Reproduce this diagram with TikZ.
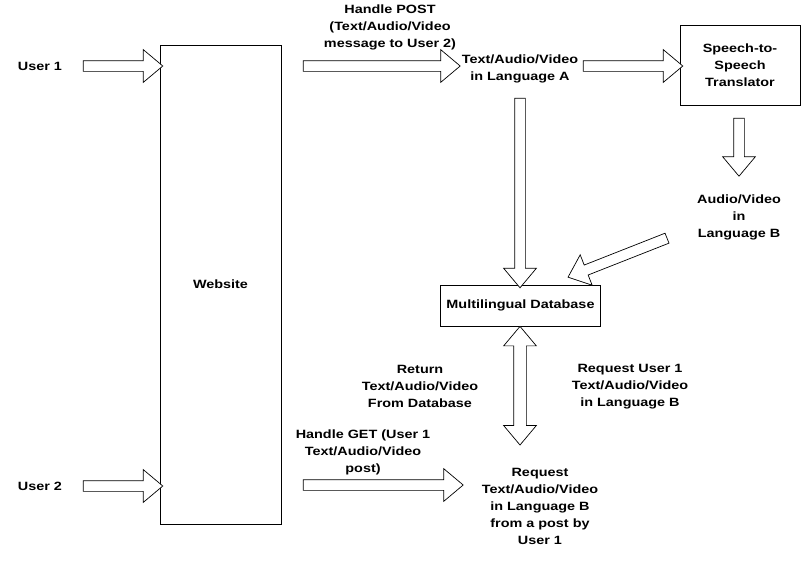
\documentclass[tikz,border=0pt]{standalone}
\usepackage{fontspec}
\setmainfont[FakeStretch=1.2]{Liberation Sans}
\usetikzlibrary{shapes.arrows,calc}
\tikzset{
  lbl/.style={font=\fontsize{12}{17}\selectfont\bfseries, align=center, inner sep=0pt},
  boxn/.style={draw, line width=0.8pt, font=\fontsize{12}{17}\selectfont\bfseries, align=center, inner sep=0pt},
  barrow/.style={single arrow, draw, line width=0.7pt, fill=white, inner xsep=0pt, inner ysep=5pt,
     single arrow head extend=11pt, single arrow tip angle=80, anchor=center},
  darrow/.style={double arrow, draw, line width=0.7pt, fill=white, inner xsep=0pt, inner ysep=6pt,
     double arrow head extend=10pt, double arrow tip angle=80, anchor=center}
}
\newcommand\blockarr[3][barrow]{%
  \path let \p1=(#2), \p2=(#3), \n1={atan2(\y2-\y1,\x2-\x1)}, \n2={veclen(\x2-\x1,\y2-\y1)} in
    ($(\p1)!0.5!(\p2)$) node[#1, rotate=\n1, minimum height=\n2] {};}
\begin{document}
\begin{tikzpicture}[x=1pt,y=-1pt]
\useasboundingbox (0,0) rectangle (801,566);
\fill[white] (0,0) rectangle (801,566);
% boxes
\node[boxn, minimum width=121pt, minimum height=479pt] (web) at (220.5,284.5) {Website};
\node[boxn, minimum width=120pt, minimum height=80pt] (tr) at (740,65) {Speech-to-\\Speech\\Translator};
\node[boxn, minimum width=160pt, minimum height=41pt] (db) at (520.5,305.5) {Multilingual Database};
% labels
\node[lbl] (u1) at (40,66) {User 1};
\node[lbl] (u2) at (40,486) {User 2};
\node[lbl] (post) at (390,27) {Handle POST\\(Text/Audio/Video\\message to User 2)};
\node[lbl] (langA) at (520,69) {Text/Audio/Video\\in Language A};
\node[lbl] (langB) at (739,217) {Audio/Video\\in\\Language B};
\node[lbl] (ret) at (420,386) {Return\\Text/Audio/Video\\From Database};
\node[lbl] (requ) at (630,387) {Request User 1\\Text/Audio/Video\\in Language B};
\node[lbl] (get) at (363,452) {Handle GET (User 1\\Text/Audio/Video\\post)};
\node[lbl] (req) at (540,506) {Request\\Text/Audio/Video\\in Language B\\from a post by\\User 1};
% arrow end points
\coordinate (u1s) at (80,66);   \coordinate (u1e) at (web.west |- u1s);
\coordinate (u2s) at (80,486);  \coordinate (u2e) at (web.west |- u2s);
\coordinate (ps) at (300,66);   \coordinate (pe) at (457,66);
\coordinate (as) at (580,66);   \coordinate (ae) at (tr.west |- as);
\coordinate (ts) at (739,115);  \coordinate (te) at (739,173);
\coordinate (vs) at (520,95);   \coordinate (ve) at (db.north -| vs);
\coordinate (ds) at (670,237);  \coordinate (de) at (571,276);
\coordinate (bs) at (db.south -| 520,0); \coordinate (be) at (520,445);
\coordinate (gs) at (300,485);  \coordinate (ge) at (460,485);
% block arrows
\blockarr{u1s}{u1e}
\blockarr{u2s}{u2e}
\blockarr{ps}{pe}
\blockarr{as}{ae}
\blockarr{ts}{te}
\blockarr{vs}{ve}
\blockarr{ds}{de}
\blockarr[darrow]{bs}{be}
\blockarr{gs}{ge}
\end{tikzpicture}
\end{document}
